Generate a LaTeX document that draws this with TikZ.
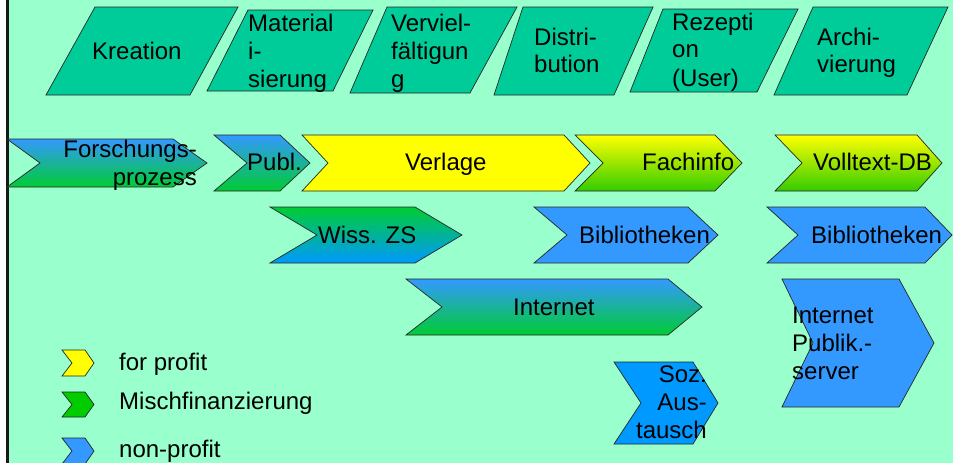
\documentclass[tikz,border=0pt]{standalone}
\usepackage{fontspec}
\setmainfont{Liberation Sans}
\definecolor{bg}{HTML}{99FFCC}
\definecolor{para}{HTML}{00CC99}
\definecolor{nblue}{HTML}{3399FF}
\definecolor{sblue}{HTML}{0099FF}
\definecolor{mgreen}{HTML}{00CC33}
\definecolor{ygreen}{HTML}{33CC00}
\definecolor{lgreen}{HTML}{00CC00}
\definecolor{fyellow}{HTML}{FFFF00}
\newcommand\ltext[1]{\vtop{\baselineskip=28pt\lineskiplimit=-30pt\halign{##\hfil\cr#1\crcr}}}
\newcommand\rtext[1]{\vtop{\baselineskip=28pt\lineskiplimit=-30pt\halign{\hfil##\cr#1\crcr}}}
% left, notch, right, tip, top, bottom
\newcommand\chevron[7][]{\path[shapeline,#1] (#2,#6) -- (#4,#6) -- (#5,{(#6+#7)/2}) -- (#4,#7) -- (#2,#7) -- (#3,{(#6+#7)/2}) -- cycle;}
% top-left, top-right, bottom-right, bottom-left, top, bottom
\newcommand\parall[7][]{\path[shapeline,fill=para,#1] (#2,#6) -- (#3,#6) -- (#4,#7) -- (#5,#7) -- cycle;}
\begin{document}
\begin{tikzpicture}[x=1pt,y=-1pt,
  shapeline/.style={draw=black!85,line width=0.7pt,line join=miter},
  lbl/.style={inner sep=0pt,anchor=base west,font=\fontsize{24}{28}\selectfont},
  rlbl/.style={inner sep=0pt,anchor=base east,font=\fontsize{24}{28}\selectfont},
  bluegreen/.style={top color=nblue,bottom color=mgreen},
  yellowgreen/.style={top color=fyellow,bottom color=ygreen},
  greenblue/.style={top color=mgreen,bottom color=sblue}]
\useasboundingbox (0,0) rectangle (953,463);
\fill[white] (0,0) rectangle (953,463);
\fill[bg] (7,0) rectangle (953,463);
\draw[black!90,line width=3pt] (7.5,0) -- (7.5,463);

% top row: process steps
\parall{95}{238}{190}{46}{7}{95}
\parall{248}{373}{333}{207}{10}{91}
\parall{387}{517}{470}{350}{7}{93}
\parall{523}{653}{614}{494}{7}{95}
\parall{663}{798}{757}{630}{9}{92}
\parall{813}{948}{907}{774}{7}{95}
\node[lbl] (kre) at (92,59) {Kreation};
\node[lbl] (mat) at (248,31) {\ltext{Material\cr i-\cr sierung}};
\node[lbl] (ver) at (391,31) {\ltext{Verviel-\cr fältigun\cr g}};
\node[lbl] (dis) at (534,45) {\ltext{Distri-\cr bution}};
\node[lbl] (rez) at (672,30) {\ltext{Rezepti\cr on\cr (User)}};
\node[lbl] (arc) at (817,45) {\ltext{Archi-\cr vierung}};

% second row
\chevron[bluegreen]{7}{40}{173}{207}{139}{187}
\chevron[bluegreen]{214}{247}{280}{310}{135}{191}
\chevron[fill=fyellow]{302}{328}{564}{590}{135}{191}
\chevron[yellowgreen]{575}{603}{715}{742}{135}{191}
\chevron[yellowgreen]{775}{802}{917}{942}{135}{191}
\node[rlbl] (fp) at (197,157) {\rtext{Forschungs-\cr prozess}};
\node[lbl] (pub) at (247,170) {Publ.};
\node[lbl] (vlg) at (405,170) {Verlage};
\node[lbl] (fin) at (642,170) {Fachinfo};
\node[lbl] (vdb) at (813,170) {Volltext-DB};

% third row
\chevron[greenblue]{270}{317}{415}{462}{207}{263}
\chevron[fill=nblue]{534}{567}{688}{718}{207}{263}
\chevron[fill=nblue]{767}{798}{925}{952}{207}{263}
\node[lbl] (wzs) at (318,243) {Wiss. ZS};
\node[lbl] (bib1) at (579,243) {Bibliotheken};
\node[lbl] (bib2) at (811,243) {Bibliotheken};

% fourth row
\chevron[bluegreen]{406}{442}{668}{702}{279}{335}
\chevron[fill=nblue]{782}{813}{899}{934}{279}{407}
\chevron[fill=sblue]{614}{641}{693}{718}{362}{444}
\node[lbl] (int) at (513,315) {Internet};
\node[lbl] (ips) at (792,323) {\ltext{Internet\cr Publik.-\cr server}};
\node[rlbl] (soz) at (707,382) {\rtext{Soz.\cr Aus-\cr tausch}};

% legend
\chevron[fill=fyellow]{62}{72}{85}{94}{350}{376}
\chevron[fill=lgreen]{62}{72}{85}{94}{392}{417}
\chevron[fill=nblue]{62}{72}{85}{94}{438}{464}
\node[lbl] (l1) at (119,370) {for profit};
\node[lbl] (l2) at (119,409) {Mischfinanzierung};
\node[lbl] (l3) at (119,457) {non-profit};
\end{tikzpicture}
\end{document}
